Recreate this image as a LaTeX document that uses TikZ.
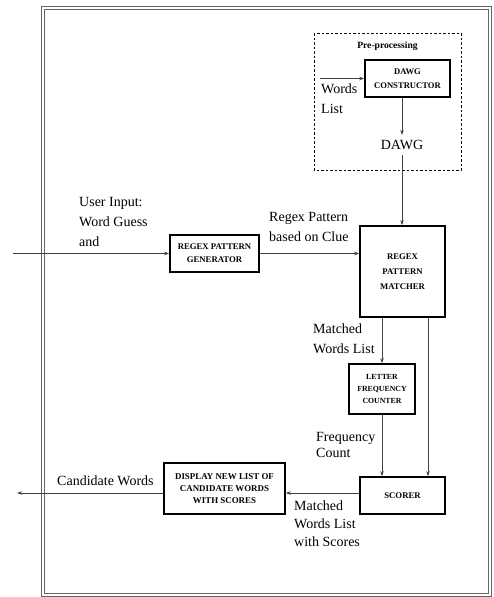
\documentclass[tikz,border=0pt]{standalone}
\usepackage{fontspec}
\setmainfont{Liberation Serif}
\usetikzlibrary{arrows.meta}

\begin{document}
\begin{tikzpicture}[x=1pt,y=-1pt,>={Stealth[length=5pt,width=3.5pt]},
   blk/.style={draw,line width=1.6pt,align=center,inner sep=2pt,
      font=\fontsize{8.7}{13}\selectfont\bfseries},
   lbl/.style={inner sep=0pt,align=left,anchor=north west,
      font=\fontsize{14}{20}\selectfont},
   link/.style={->,draw=black!75,line width=0.8pt}]
   \useasboundingbox (0,0) rectangle (493,597);
   % frame
   \draw[black!60,line width=1pt] (41,6) rectangle (491,596);
   \draw[black!60,line width=1pt] (44,9) rectangle (488,593);
   \draw[dashed,line width=1pt,dash pattern=on 2.5pt off 2pt] (314,33) rectangle (461,170);

   \node (prep) at (387.5,46) [font=\fontsize{9.6}{11}\selectfont\bfseries] {Pre-processing};
   \node (dawgc) at (407.5,78.5) [blk,minimum width=85,minimum height=37,
      font=\fontsize{8.6}{14}\selectfont\bfseries] {DAWG\\CONSTRUCTOR};
   \node (dawg) at (402,145) [inner sep=5pt,font=\fontsize{14}{20}\selectfont] {DAWG};
   \node (gen) at (214.5,253.5) [blk,minimum width=89,minimum height=37] {REGEX PATTERN\\GENERATOR};
   \node (matcher) at (402.5,271.5) [blk,minimum width=85,minimum height=91,
      font=\fontsize{8.7}{15}\selectfont\bfseries] {REGEX\\PATTERN\\MATCHER};
   \node (counter) at (382,389) [blk,minimum width=66,minimum height=50,
      font=\fontsize{7.8}{12}\selectfont\bfseries] {LETTER\\FREQUENCY\\COUNTER};
   \node (scorer) at (402.5,495.5) [blk,minimum width=85,minimum height=37] {SCORER};
   \node (display) at (224.5,488.5) [blk,minimum width=121,minimum height=51,
      font=\fontsize{8.9}{12}\selectfont\bfseries] {DISPLAY NEW LIST OF\\CANDIDATE WORDS\\WITH SCORES};

   \coordinate (wlist) at (320,78.5);
   \coordinate (input) at (13,253.5);
   \coordinate (output) at (17,493);

   \node (wlbl) at (321,84) [lbl] {Words\\List};
   \node (ulbl) at (79,197) [lbl] {User Input:\\Word Guess\\and};
   \node (rlbl) at (269,212) [lbl] {Regex Pattern\\based on Clue};
   \node (mlbl) at (313,324) [lbl] {Matched\\Words List};
   \node (flbl) at (316,432) [lbl,font=\fontsize{14}{16}\selectfont] {Frequency\\Count};
   \node (slbl) at (294,501) [lbl,font=\fontsize{14}{18}\selectfont] {Matched\\Words List\\with Scores};
   \node (clbl) at (57,476) [lbl] {Candidate Words};

   \draw[link] (wlist) -- (dawgc.west);
   \draw[link] (dawgc.south -| dawg) -- (dawg);
   \draw[link] (dawg) -- (matcher.north -| dawg);
   \draw[link] (input) -- (gen.west);
   \draw[link] (gen.east) -- (gen.east -| matcher.west);
   \draw[link] (matcher.south -| counter.north) -- (counter.north);
   \draw[link] ([xshift=25.5]matcher.south) -- ([xshift=25.5]scorer.north);
   \draw[link] (counter.south) -- (counter.south |- scorer.north);
   \draw[link] ([yshift=2.5]scorer.west) -- ([yshift=2.5]scorer.west -| display.east);
   \draw[link] ([yshift=-4.5]display.west) -- (output);
\end{tikzpicture}
\end{document}
